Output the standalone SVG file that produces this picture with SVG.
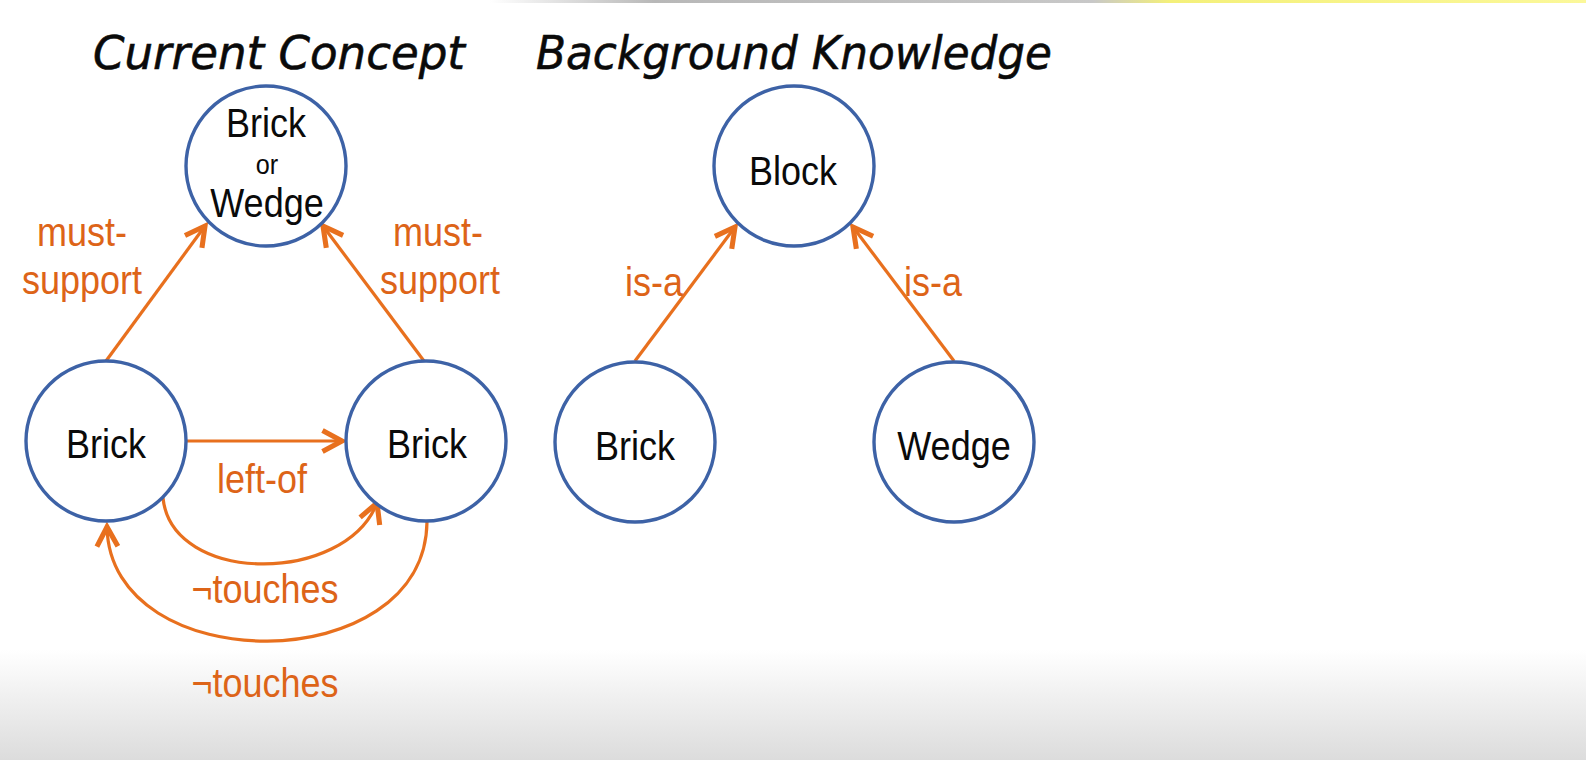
<svg xmlns="http://www.w3.org/2000/svg" width="1586" height="760" viewBox="0 0 1586 760">
<style>
.node{fill:#ffffff;stroke:#3d62a6;stroke-width:3.4}
.nt{font-family:"Liberation Sans",Arial,sans-serif;font-size:40px;fill:#0a0a0a;text-anchor:middle}
.lbl{font-family:"Liberation Sans",Arial,sans-serif;font-size:40px;fill:#dd6418;text-anchor:middle}
.edge{fill:none;stroke:#e8701e;stroke-width:3.2}
.title{font-family:"DejaVu Sans",sans-serif;font-size:46px;fill:#0a0a0a;font-style:oblique;stroke:#0a0a0a;stroke-width:0.6}
</style>
<defs>
<marker id="ah" markerUnits="userSpaceOnUse" markerWidth="30" markerHeight="30" refX="0" refY="0" viewBox="-16 -10 20 20" orient="auto" overflow="visible">
<path d="M-13,-7 L0,0 L-13,7" fill="none" stroke="#e8701e" stroke-width="3.4" stroke-linejoin="miter"/>
</marker>
<linearGradient id="bot" x1="0" y1="0" x2="0" y2="1">
<stop offset="0" stop-color="#ffffff"/>
<stop offset="1" stop-color="#dcdcdc"/>
</linearGradient>
<linearGradient id="topg" x1="0" y1="0" x2="1" y2="0">
<stop offset="0" stop-color="#ffffff"/>
<stop offset="0.15" stop-color="#b8b8b8"/>
<stop offset="0.55" stop-color="#c8c8c8"/>
<stop offset="0.62" stop-color="#f4f07a"/>
<stop offset="1" stop-color="#fbf89a"/>
</linearGradient>
</defs>
<rect x="0" y="0" width="1586" height="760" fill="#ffffff"/>
<rect x="0" y="650" width="1586" height="110" fill="url(#bot)"/>
<rect x="490" y="0" width="1096" height="3" fill="url(#topg)"/>

<g id="titles">
<text class="title" x="93" y="69" textLength="372" lengthAdjust="spacingAndGlyphs">Current Concept</text>
<text class="title" x="536" y="69" textLength="516" lengthAdjust="spacingAndGlyphs">Background Knowledge</text>
</g>

<g id="connectors">
<line class="edge" x1="106" y1="361" x2="205" y2="226" marker-end="url(#ah)"/>
<line class="edge" x1="424" y1="361" x2="323" y2="226" marker-end="url(#ah)"/>
<line class="edge" x1="186" y1="441" x2="342" y2="441" marker-end="url(#ah)"/>
<path class="edge" d="M163,498 C172,585 345,585 377,503" marker-end="url(#ah)"/>
<path class="edge" d="M427,522 C425,680 110,680 107,527" marker-end="url(#ah)"/>
<line class="edge" x1="635" y1="361" x2="735" y2="227" marker-end="url(#ah)"/>
<line class="edge" x1="954" y1="361" x2="853" y2="227" marker-end="url(#ah)"/>
</g>

<g id="labels">
<text class="lbl" transform="translate(82 246) scale(0.9 1)">must-</text>
<text class="lbl" transform="translate(82 294) scale(0.9 1)">support</text>
<text class="lbl" transform="translate(438 246) scale(0.9 1)">must-</text>
<text class="lbl" transform="translate(440 294) scale(0.9 1)">support</text>
<text class="lbl" transform="translate(262 493) scale(0.9 1)">left-of</text>
<text class="lbl" transform="translate(265 603) scale(0.9 1)">¬touches</text>
<text class="lbl" transform="translate(265 697) scale(0.9 1)">¬touches</text>
<text class="lbl" transform="translate(654 296) scale(0.9 1)">is-a</text>
<text class="lbl" transform="translate(933 296) scale(0.9 1)">is-a</text>
</g>

<g id="node-brick-or-wedge">
<circle class="node" cx="266" cy="166" r="80"/>
<text class="nt" transform="translate(266 137) scale(0.9 1)">Brick</text>
<text class="nt" style="font-size:28px" transform="translate(267 174) scale(0.9 1)">or</text>
<text class="nt" transform="translate(267 217) scale(0.9 1)">Wedge</text>
</g>
<g id="node-brick-left">
<circle class="node" cx="106" cy="441" r="80"/>
<text class="nt" transform="translate(106 458) scale(0.9 1)">Brick</text>
</g>
<g id="node-brick-right">
<circle class="node" cx="426" cy="441" r="80"/>
<text class="nt" transform="translate(427 458) scale(0.9 1)">Brick</text>
</g>
<g id="node-block">
<circle class="node" cx="794" cy="166" r="80"/>
<text class="nt" transform="translate(793 185) scale(0.9 1)">Block</text>
</g>
<g id="node-brick-bk">
<circle class="node" cx="635" cy="442" r="80"/>
<text class="nt" transform="translate(635 460) scale(0.9 1)">Brick</text>
</g>
<g id="node-wedge-bk">
<circle class="node" cx="954" cy="442" r="80"/>
<text class="nt" transform="translate(954 460) scale(0.9 1)">Wedge</text>
</g>
</svg>
